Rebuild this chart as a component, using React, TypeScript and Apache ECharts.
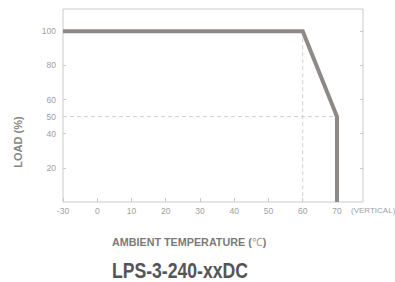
import React, { useEffect, useRef } from "react";
import * as echarts from "echarts";

// Derating curve: ambient temperature (°C) vs load (%)
const curveTemps = [-30, 60, 70, 70];
const curveLoads = [100, 100, 50, 0];
// Reference dashed guides
const guideH = { temps: [-30, 70], loads: [50, 50] };
const guideV = { temps: [60, 60], loads: [100, 0] };
// Axis tick labels
const xTickTemps = [-30, 0, 10, 20, 30, 40, 50, 60, 70];
const yLabelValues = [20, 40, 50, 60, 80, 100];
const yTickValues = [20, 40, 60, 80, 100];

// The axis is broken between -30 and 0: -30 sits one division left of 0.
const axisPos = (t: number) => (t < 0 ? -10 : t);
const pts = (ts: number[], ls: number[]) => ts.map((t, i) => [axisPos(t), ls[i]]);

const SANS = "'Liberation Sans', Arial, sans-serif";

export default function App() {
  const ref = useRef<HTMLDivElement>(null);
  useEffect(() => {
    if (!ref.current) return;
    const chart = echarts.init(ref.current, null, { renderer: "svg" });
    const labelColor = "#a0a0a0";
    const borderColor = "#cacaca";
    chart.setOption({
      animation: false,
      backgroundColor: "#ffffff",
      grid: { left: 63, right: 32, top: 9, bottom: 80, show: true, borderColor, borderWidth: 1 },
      xAxis: {
        type: "value",
        min: -10,
        max: 77.6,
        interval: 10,
        splitLine: { show: false },
        axisLine: { show: false, onZero: false },
        axisTick: {
          show: true,
          inside: true,
          length: 4,
          lineStyle: { color: borderColor },
          customValues: xTickTemps.map(axisPos),
        },
        axisLabel: {
          color: labelColor,
          fontFamily: SANS,
          fontSize: 8.5,
          margin: 4,
          customValues: xTickTemps.map(axisPos),
          formatter: (v: number) => (v === -10 ? "-30" : String(v)),
        },
      },
      yAxis: [
        {
          type: "value",
          position: "left",
          min: 0,
          max: 113,
          interval: 10,
          splitLine: { show: false },
          axisLine: { show: false, onZero: false },
          axisTick: {
            show: true,
            inside: true,
            length: 3,
            lineStyle: { color: borderColor },
            customValues: yTickValues,
          },
          axisLabel: {
            color: labelColor,
            fontFamily: SANS,
            fontSize: 8.5,
            margin: 7,
            customValues: yLabelValues,
          },
        },
        {
          type: "value",
          position: "right",
          min: 0,
          max: 113,
          interval: 10,
          splitLine: { show: false },
          axisLine: { show: false, onZero: false },
          axisLabel: { show: false },
          axisTick: {
            show: true,
            inside: true,
            length: 3,
            lineStyle: { color: borderColor },
            customValues: yTickValues,
          },
        },
      ],
      series: [
        {
          type: "line",
          data: pts(guideH.temps, guideH.loads),
          symbol: "none",
          lineStyle: { color: "#cfcfcf", width: 1, type: [4, 3] },
          z: 1,
          silent: true,
        },
        {
          type: "line",
          data: pts(guideV.temps, guideV.loads),
          symbol: "none",
          lineStyle: { color: "#cfcfcf", width: 1, type: [4, 3] },
          z: 1,
          silent: true,
        },
        {
          type: "line",
          data: pts(curveTemps, curveLoads),
          symbol: "none",
          lineStyle: { color: "#8e8986", width: 4, join: "miter" },
          z: 3,
          silent: true,
        },
      ],
      graphic: [
        {
          type: "text",
          x: 351,
          y: 210,
          style: {
            text: "(VERTICAL)",
            fill: labelColor,
            font: `8px ${SANS}`,
            verticalAlign: "middle",
          },
        },
        {
          type: "text",
          x: 18,
          y: 142,
          rotation: Math.PI / 2,
          style: {
            text: "LOAD (%)",
            fill: "#858585",
            font: `bold 11px ${SANS}`,
            align: "center",
            verticalAlign: "middle",
          },
        },
        {
          type: "text",
          x: 112,
          y: 241.5,
          scaleX: 0.98,
          style: {
            rich: {
              b: { fill: "#7a7a7a", font: `bold 11px ${SANS}` },
              l: { fill: "#9a9a9a", font: `11px ${SANS}` },
            },
            text: "{b|AMBIENT TEMPERATURE (}{l|℃}{b|)}",
            verticalAlign: "middle",
          },
        },
        {
          type: "text",
          x: 112,
          y: 270.5,
          scaleX: 0.8,
          style: {
            text: "LPS-3-240-xxDC",
            fill: "#555555",
            font: `bold 22px ${SANS}`,
            verticalAlign: "middle",
          },
        },
      ],
    });
    return () => chart.dispose();
  }, []);
  return (
    <div
      ref={ref}
      style={{ position: "absolute", left: 0, top: 0, width: 395, height: 282, overflow: "hidden" }}
    />
  );
}
